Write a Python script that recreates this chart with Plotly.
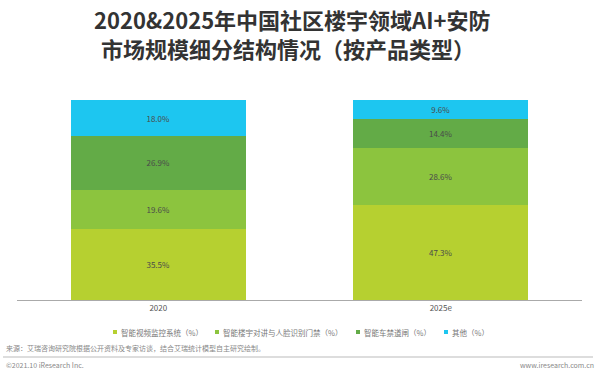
import plotly.graph_objects as go

categories = ["2020", "2025e"]
series_names = ["智能视频监控系统（%）", "智能楼宇对讲与人脸识别门禁（%）", "智能车禁道闸（%）", "其他（%）"]
video = [35.5, 47.3]
intercom = [19.6, 28.6]
parking = [26.9, 14.4]
other = [18.0, 9.6]
colors = ["#b6d030", "#8cc43e", "#63ab47", "#1dc6f0"]
title_lines = ["2020&2025年中国社区楼宇领域AI+安防", "市场规模细分结构情况（按产品类型）"]

FONT = "Noto Sans CJK SC"
PL, PR, PT, PB = 17, 582, 100, 300
PW, PH = PR - PL, PB - PT


def px(x):
    return (x - PL) / PW


def py(y):
    return (PB - y) / PH


fig = go.Figure()
for name, vals, col in zip(series_names, [video, intercom, parking, other], colors):
    fig.add_trace(go.Bar(
        x=categories, y=vals, name=name, marker=dict(color=col, line=dict(width=0)),
        text=[f"{v:.1f}%" for v in vals], textposition="inside", insidetextanchor="middle",
        textfont=dict(size=8, color="#4a4a4a", family=FONT), width=0.62, showlegend=False,
        hoverinfo="skip",
    ))

fig.update_layout(
    barmode="stack",
    width=600, height=378,
    margin=dict(l=PL, r=600 - PR, t=PT, b=378 - PB, autoexpand=False),
    paper_bgcolor="white", plot_bgcolor="white",
    font=dict(family=FONT, color="#555"),
    showlegend=False,
    xaxis=dict(type="category", range=[-0.5, 1.5], showline=True, linecolor="#aaa", linewidth=1,
               ticks="", tickfont=dict(size=8, color="#555", family=FONT), showgrid=False),
    yaxis=dict(range=[0, 100], visible=False, showgrid=False),
)

# legend drawn as small squares + labels
legend_x = [115, 217, 358, 446]
legend_y = 332
for name, col, lx in zip(series_names, colors, legend_x):
    fig.add_shape(type="rect", xref="paper", yref="paper",
                  x0=px(lx - 2), x1=px(lx + 2), y0=py(legend_y + 2), y1=py(legend_y - 2),
                  fillcolor=col, line=dict(width=0))
    fig.add_annotation(text=name, xref="paper", yref="paper", x=px(lx + 4), y=py(legend_y),
                       xanchor="left", yanchor="middle", showarrow=False,
                       font=dict(size=7.5, color="#777", family=FONT))

for line, cx, cy in zip(title_lines, [292, 288], [19, 48]):
    fig.add_annotation(
        text=f"<b>{line}</b>",
        xref="paper", yref="paper", x=px(cx), y=py(cy), xanchor="center", yanchor="middle",
        showarrow=False, font=dict(size=22, color="#333", family=FONT),
    )
fig.add_annotation(
    text="来源：艾瑞咨询研究院根据公开资料及专家访谈，结合艾瑞统计模型自主研究绘制。",
    xref="paper", yref="paper", x=px(4), y=py(348), xanchor="left", yanchor="middle",
    showarrow=False, font=dict(size=7, color="#888", family=FONT),
)
fig.add_annotation(
    text="©2021.10 iResearch Inc.",
    xref="paper", yref="paper", x=px(4), y=py(365), xanchor="left", yanchor="middle",
    showarrow=False, font=dict(size=7, color="#888", family=FONT),
)
fig.add_annotation(
    text="www.iresearch.com.cn",
    xref="paper", yref="paper", x=px(596), y=py(365), xanchor="right", yanchor="middle",
    showarrow=False, font=dict(size=7, color="#888", family=FONT),
)
fig.add_shape(type="line", xref="paper", yref="paper", x0=px(3), x1=px(593),
              y0=py(357), y1=py(357), line=dict(color="#bbb", width=1))

fig.write_html("out.html", config={"displayModeBar": False},
               post_script="document.body.style.margin='0';document.body.style.overflow='hidden';")
